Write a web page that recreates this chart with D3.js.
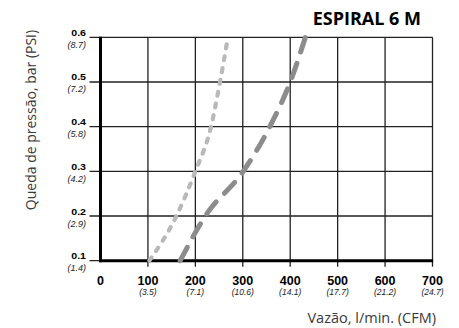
<!DOCTYPE html>
<html>
<head>
<meta charset="utf-8">
<script src="https://cdn.jsdelivr.net/npm/d3@7"></script>
<style>
  html, body { margin: 0; padding: 0; background: #fff; }
  svg { display: block; }
</style>
</head>
<body>
<svg id="chart" width="459" height="328"></svg>
<script>
// ---- data ----
const xTicks = [0, 100, 200, 300, 400, 500, 600, 700];
const xTickSub = ["", "(3.5)", "(7.1)", "(10.6)", "(14.1)", "(17.7)", "(21.2)", "(24.7)"];
const yTicks = [0.1, 0.2, 0.3, 0.4, 0.5, 0.6];
const yTickSub = ["(1.4)", "(2.9)", "(4.2)", "(5.8)", "(7.2)", "(8.7)"];

const lightFlow = [103, 160, 200, 233, 252, 267];
const lightDrop = [0.1, 0.2, 0.3, 0.4, 0.5, 0.59];
const darkFlow  = [168, 221, 301, 357, 400, 432];
const darkDrop  = [0.1, 0.2, 0.3, 0.4, 0.5, 0.6];

const title = "ESPIRAL 6 M";
const xTitle = "Vazão, l/min. (CFM)";
const yTitle = "Queda de pressão, bar (PSI)";

// ---- scales ----
const x = d3.scaleLinear().domain([0, 700]).range([100.5, 432.5]);
const y = d3.scaleLinear().domain([0.1, 0.6]).range([260.7, 37.3]);

const svg = d3.select("#chart");
const tickFont = "'Liberation Sans', Arial, sans-serif";
const textFont = "'Open Sans', 'Noto Sans', sans-serif";

// grid: horizontal
svg.append("g").selectAll("line").data(yTicks).join("line")
  .attr("x1", x(0) - 11).attr("x2", x(700))
  .attr("y1", d => y(d)).attr("y2", d => y(d))
  .attr("stroke", "#222").attr("stroke-width", 1.3);

// grid: vertical
svg.append("g").selectAll("line").data(xTicks.filter(d => d > 0)).join("line")
  .attr("x1", d => x(d)).attr("x2", d => x(d))
  .attr("y1", y(0.6)).attr("y2", y(0.1) + 6)
  .attr("stroke", "#222").attr("stroke-width", 1.3);

// thick axes
svg.append("line")
  .attr("x1", x(0)).attr("x2", x(0))
  .attr("y1", y(0.6) - 0.6).attr("y2", y(0.1) + 1.5)
  .attr("stroke", "#000").attr("stroke-width", 3);
svg.append("line")
  .attr("x1", x(0) - 1.5).attr("x2", x(700) + 0.6)
  .attr("y1", y(0.1)).attr("y2", y(0.1))
  .attr("stroke", "#000").attr("stroke-width", 3);

// curves
const line = d3.line().x(d => x(d[0])).y(d => y(d[1])).curve(d3.curveMonotoneX);

svg.append("path")
  .datum(d3.zip(lightFlow, lightDrop))
  .attr("d", line)
  .attr("fill", "none")
  .attr("stroke", "#b9b9b9")
  .attr("stroke-width", 4.2)
  .attr("stroke-linecap", "round")
  .attr("stroke-dasharray", "4,8");

svg.append("path")
  .datum(d3.zip(darkFlow, darkDrop))
  .attr("d", line)
  .attr("fill", "none")
  .attr("stroke", "#8c8c8c")
  .attr("stroke-width", 5)
  .attr("stroke-linecap", "round")
  .attr("stroke-dasharray", "15,12");

// y tick labels
const yl = svg.append("g");
yTicks.forEach((v, i) => {
  yl.append("text")
    .attr("transform", `translate(86,${y(v) - 1.5}) scale(1.25,1)`)
    .attr("text-anchor", "end")
    .attr("font-family", tickFont).attr("font-weight", "bold")
    .attr("font-size", 8.5).attr("fill", "#000")
    .text(v.toFixed(1));
  yl.append("text")
    .attr("x", 86).attr("y", y(v) + 10.5)
    .attr("text-anchor", "end")
    .attr("font-family", tickFont).attr("font-style", "italic")
    .attr("font-size", 9).attr("fill", "#222")
    .text(yTickSub[i]);
});

// x tick labels
const xl = svg.append("g");
xTicks.forEach((v, i) => {
  xl.append("text")
    .attr("x", x(v)).attr("y", 284.5)
    .attr("text-anchor", "middle")
    .attr("font-family", tickFont).attr("font-weight", "bold")
    .attr("font-size", 12.5).attr("fill", "#000")
    .text(v);
  if (xTickSub[i]) {
    xl.append("text")
      .attr("x", x(v)).attr("y", 294.5)
      .attr("text-anchor", "middle")
      .attr("font-family", tickFont).attr("font-style", "italic")
      .attr("font-size", 8.5).attr("fill", "#222")
      .text(xTickSub[i]);
  }
});

// title
svg.append("text")
  .attr("x", 421).attr("y", 25.3)
  .attr("text-anchor", "end")
  .attr("font-family", textFont).attr("font-weight", "bold")
  .attr("font-size", 18).attr("fill", "#000")
  .text(title);

// axis titles
svg.append("text")
  .attr("x", 436).attr("y", 323)
  .attr("text-anchor", "end")
  .attr("font-family", textFont)
  .attr("font-size", 14.5).attr("fill", "#3a3a3a")
  .text(xTitle);

svg.append("text")
  .attr("transform", "translate(36,120) rotate(-90)")
  .attr("text-anchor", "middle")
  .attr("font-family", textFont)
  .attr("font-size", 14).attr("fill", "#3a3a3a")
  .text(yTitle);
</script>
</body>
</html>
